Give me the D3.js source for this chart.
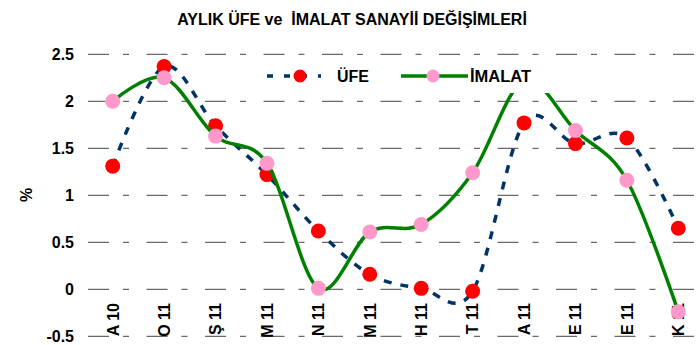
<!DOCTYPE html>
<html>
<head>
<meta charset="utf-8">
<script src="https://cdn.jsdelivr.net/npm/d3@7"></script>
<style>
  html, body { margin: 0; padding: 0; background: #fff; }
  svg { display: block; font-family: "Liberation Sans", Arial, sans-serif; }
</style>
</head>
<body>
<svg id="chart" width="696" height="345"></svg>
<script>
// Monthly producer prices (ÜFE) and manufacturing (İmalat) changes, %
const categories = ["A 10", "O 11", "Ş 11", "M 11", "N 11", "M 11", "H 11", "T 11", "A 11", "E 11", "E 11", "K 11"];
const ufeValues = [1.31, 2.37, 1.74, 1.22, 0.62, 0.16, 0.01, -0.02, 1.77, 1.55, 1.61, 0.65];
const imalatValues = [2.00, 2.25, 1.63, 1.34, 0.01, 0.61, 0.69, 1.24, 2.22, 1.69, 1.16, -0.24];
const yTicks = [-0.5, 0, 0.5, 1, 1.5, 2, 2.5];
const yTickLabels = ["-0.5", "0", "0.5", "1", "1.5", "2", "2.5"];
const seriesNames = ["ÜFE", "İMALAT"];
const titleText = "AYLIK ÜFE ve  İMALAT SANAYİİ DEĞİŞİMLERİ";

const svg = d3.select("#chart");
const W = 696;

const x = d3.scaleBand().domain(d3.range(categories.length)).range([87, 704]);
const cx = i => x(i) + x.bandwidth() / 2;
const y = d3.scaleLinear().domain([-0.5, 2.5]).range([336.3, 54.3]);

// Title
svg.append("text")
  .attr("x", 352).attr("y", 25)
  .attr("text-anchor", "middle")
  .style("white-space", "pre")
  .attr("font-size", 16).attr("font-weight", "bold")
  .text(titleText);

// Horizontal dashed gridlines
svg.append("g").selectAll("line").data(yTicks).join("line")
  .attr("x1", 88).attr("x2", W)
  .attr("y1", d => y(d)).attr("y2", d => y(d))
  .attr("stroke", "#444").attr("stroke-width", 1)
  .attr("stroke-dasharray", "21,14,6,17.5");

// Y axis tick labels
svg.append("g").selectAll("text").data(yTicks).join("text")
  .attr("x", 74).attr("y", d => y(d))
  .attr("dy", "0.36em")
  .attr("text-anchor", "end")
  .attr("font-size", 16).attr("font-weight", "bold")
  .text((d, i) => yTickLabels[i]);

// Y axis title
svg.append("text")
  .attr("transform", "translate(32,195) rotate(-90)")
  .attr("text-anchor", "middle")
  .attr("font-size", 16).attr("font-weight", "bold")
  .text("%");

// Category labels (rotated)
svg.append("g").selectAll("text").data(categories).join("text")
  .attr("transform", (d, i) => `translate(${cx(i) + 5.8},303) rotate(-90)`)
  .attr("text-anchor", "end")
  .attr("font-size", 16).attr("font-weight", "bold")
  .text(d => d);

const line = d3.line()
  .x((d, i) => cx(i))
  .y(d => y(d))
  .curve(d3.curveCardinal.tension(0));

// ÜFE series: dashed navy line with red markers
svg.append("path")
  .datum(ufeValues)
  .attr("d", line)
  .attr("fill", "none")
  .attr("stroke", "#003366").attr("stroke-width", 3.5)
  .attr("stroke-dasharray", "8,9");
svg.append("g").selectAll("circle").data(ufeValues).join("circle")
  .attr("cx", (d, i) => cx(i)).attr("cy", d => y(d))
  .attr("r", 7.5).attr("fill", "#FF0000");

// İmalat series: solid green line with pink markers
svg.append("path")
  .datum(imalatValues)
  .attr("d", line)
  .attr("fill", "none")
  .attr("stroke", "#008000").attr("stroke-width", 3.5);
svg.append("g").selectAll("circle").data(imalatValues).join("circle")
  .attr("cx", (d, i) => cx(i)).attr("cy", d => y(d))
  .attr("r", 7.5).attr("fill", "#FF99CC");

// Legend (opaque box over the plot)
const lg = svg.append("g");
lg.append("rect").attr("x", 256).attr("y", 58).attr("width", 294).attr("height", 35).attr("fill", "#fff");
lg.append("line").attr("x1", 267).attr("x2", 321).attr("y1", 76).attr("y2", 76)
  .attr("stroke", "#003366").attr("stroke-width", 3.5).attr("stroke-dasharray", "6,11");
lg.append("circle").attr("cx", 300).attr("cy", 76).attr("r", 6.5).attr("fill", "#FF0000");
lg.append("text").attr("x", 337).attr("y", 82).attr("font-size", 16).attr("font-weight", "bold").text(seriesNames[0]);
lg.append("line").attr("x1", 401).attr("x2", 468).attr("y1", 76).attr("y2", 76)
  .attr("stroke", "#008000").attr("stroke-width", 3.5);
lg.append("circle").attr("cx", 433).attr("cy", 76).attr("r", 6.5).attr("fill", "#FF99CC");
lg.append("text").attr("x", 470).attr("y", 82).attr("font-size", 16.5).attr("font-weight", "bold").text(seriesNames[1]);
</script>
</body>
</html>
